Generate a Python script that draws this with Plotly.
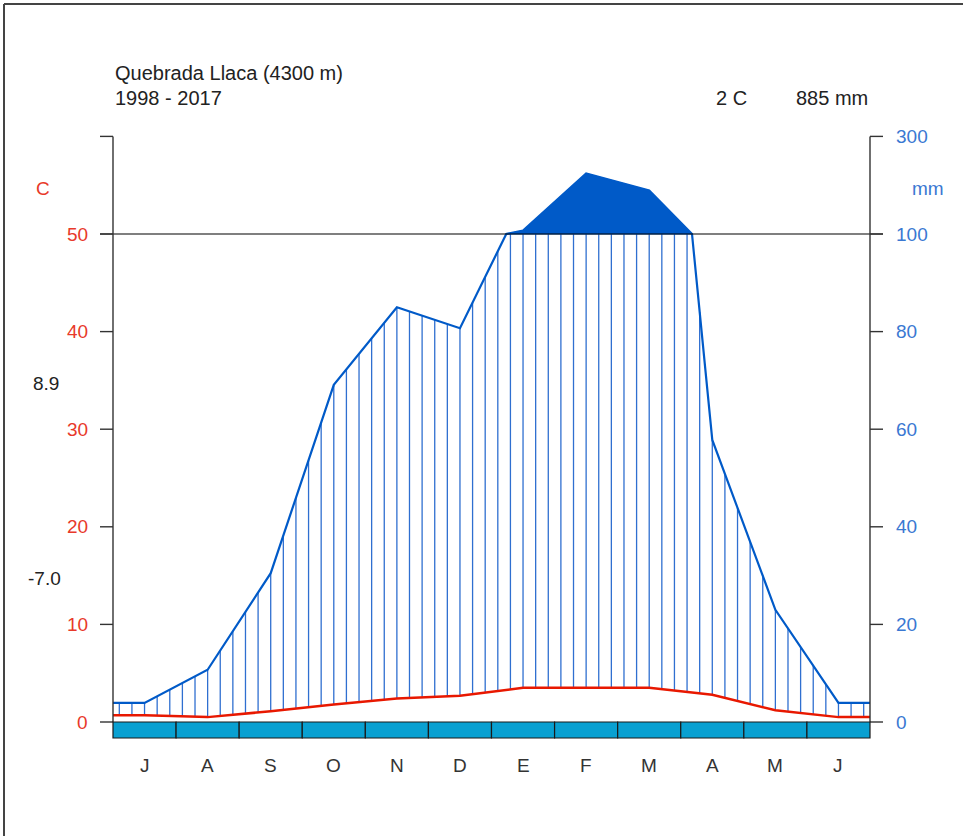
import numpy as np
import plotly.graph_objects as go

# ---------------- data ----------------
month_labels = ["J", "A", "S", "O", "N", "D", "E", "F", "M", "A", "M", "J"]
precip_mm = [3.9, 10.7, 30.5, 69.1, 85.0, 80.7, 107.0, 224.0, 189.0, 57.8, 23.0, 3.9]
temp_c = [0.7, 0.5, 1.1, 1.8, 2.4, 2.7, 3.5, 3.5, 3.5, 2.8, 1.2, 0.5]
temp_ticks = [0, 10, 20, 30, 40, 50]
precip_tick_labels = ["0", "20", "40", "60", "80", "100"]
precip_top_label = "300"
station = "Quebrada Llaca (4300 m)"
period = "1998 - 2017"
mean_temp_label = "2 C"
total_precip_label = "885 mm"
max_warm_label = "8.9"
min_cold_label = "-7.0"

# ---------------- geometry helpers ----------------
W, H = 963, 836
X0PX, X1PX = 113, 870          # month 0 and month 12
Y0PX, PXU = 722, 9.76          # pixel of 0 units, pixels per unit
XR = [(0 - X0PX) / ((X1PX - X0PX) / 12), (W - X0PX) / ((X1PX - X0PX) / 12)]
YR = [(Y0PX - H) / PXU, Y0PX / PXU]


def xpx(px):
    return (px - X0PX) / ((X1PX - X0PX) / 12)


def ypx(py):
    return (Y0PX - py) / PXU


def pu(p):
    p = np.asarray(p, dtype=float)
    return np.where(p <= 100, p / 2.0, 50 + (p - 100) * 0.05)


PCOL = "#005ac8"
TCOL = "#e81800"
FROST = "#09a0d1"
LBLUE = "#3a78d2"
LRED = "#e8392a"
TXT = "#222222"
FONT = "Liberation Sans, Arial, sans-serif"

# monthly series extended flat to the edges
xs = [0.0] + [i + 0.5 for i in range(12)] + [12.0]
ps = [precip_mm[0]] + list(precip_mm) + [precip_mm[-1]]
ts = [temp_c[0]] + list(temp_c) + [temp_c[-1]]

# precipitation polyline with 100 mm crossings
px_line, pp_line = [xs[0]], [ps[0]]
for i in range(1, len(xs)):
    a, b = ps[i - 1], ps[i]
    if (a - 100) * (b - 100) < 0:
        xc = xs[i - 1] + (100 - a) / (b - a) * (xs[i] - xs[i - 1])
        px_line.append(xc)
        pp_line.append(100.0)
    px_line.append(xs[i])
    pp_line.append(b)
py_line = pu(pp_line)

# polygon above 100 mm
poly_x, poly_y = [], []
for x, p in zip(px_line, pp_line):
    if p >= 100:
        poly_x.append(x)
        poly_y.append(float(pu(p)))

fig = go.Figure()

# dark fill above 100 mm
if poly_x:
    fig.add_trace(go.Scatter(
        x=poly_x + [poly_x[-1], poly_x[0]], y=poly_y + [50, 50],
        fill="toself", fillcolor=PCOL, line=dict(color=PCOL, width=1),
        mode="lines", hoverinfo="skip", showlegend=False))

# humid-period hatching
hx, hy = [], []
for k in range(60):
    x = (k + 0.5) / 5
    t = float(np.interp(x, xs, ts))
    p = float(np.interp(x, xs, ps))
    top = min(p, 100) / 2
    if top > t:
        hx += [x, x, None]
        hy += [t, top, None]
fig.add_trace(go.Scatter(x=hx, y=hy, mode="lines",
                         line=dict(color="#2f6fd0", width=1.3),
                         hoverinfo="skip", showlegend=False))

# precipitation line
fig.add_trace(go.Scatter(x=px_line, y=py_line, mode="lines",
                         line=dict(color=PCOL, width=2.2),
                         hoverinfo="skip", showlegend=False))
# temperature line
fig.add_trace(go.Scatter(x=xs, y=ts, mode="lines",
                         line=dict(color=TCOL, width=2.5),
                         hoverinfo="skip", showlegend=False))

shapes = []
ann = []
tick_len = 13 / ((X1PX - X0PX) / 12)

# 50 C / 100 mm reference line
shapes.append(dict(type="line", xref="x", yref="y", x0=-tick_len, x1=12 + tick_len,
                   y0=50, y1=50, line=dict(color="black", width=1.2)))
# axes
for xa in (0, 12):
    shapes.append(dict(type="line", xref="x", yref="y", x0=xa, x1=xa, y0=0, y1=60,
                       line=dict(color="#333333", width=1.4)))
for v in temp_ticks + [60]:
    shapes.append(dict(type="line", xref="x", yref="y", x0=-tick_len, x1=0, y0=v, y1=v,
                       line=dict(color="#333333", width=1.4)))
    shapes.append(dict(type="line", xref="x", yref="y", x0=12, x1=12 + tick_len, y0=v, y1=v,
                       line=dict(color="#333333", width=1.4)))

# frost band
band_h = 16 / PXU
for i in range(12):
    shapes.append(dict(type="rect", xref="x", yref="y", x0=i, x1=i + 1, y0=-band_h, y1=0,
                       fillcolor=FROST, line=dict(color="#1a1a1a", width=1.2)))

# frame
shapes.append(dict(type="line", xref="paper", yref="paper", x0=4 / W, x1=4 / W,
                   y0=0, y1=1 - 4 / H, line=dict(color="#444444", width=2)))
shapes.append(dict(type="line", xref="paper", yref="paper", x0=4 / W, x1=1,
                   y0=1 - 4 / H, y1=1 - 4 / H, line=dict(color="#444444", width=2)))


def text(s, x, y, color=TXT, size=19, xanchor="center"):
    ann.append(dict(text=s, x=x, y=y, xref="x", yref="y", showarrow=False,
                    xanchor=xanchor, yanchor="middle",
                    font=dict(family=FONT, size=size, color=color)))


# left temperature labels
for v in temp_ticks:
    text(str(v), xpx(90), v, color=LRED, xanchor="right")
# right precipitation labels
for v, lab in zip(temp_ticks, precip_tick_labels):
    text(lab, xpx(894), v, color=LBLUE, xanchor="left")
text(precip_top_label, xpx(894), 60, color=LBLUE, xanchor="left")

text("C", xpx(43), ypx(188), color=LRED)
text("mm", xpx(928), ypx(188), color=LBLUE)
text(max_warm_label, xpx(46), ypx(383))
text(min_cold_label, xpx(44), ypx(578))

for i, m in enumerate(month_labels):
    text(m, i + 0.5, ypx(765), color="#333333", size=19)

text(station, xpx(113), ypx(73), xanchor="left", size=20)
text(period, xpx(113), ypx(98), xanchor="left", size=20)
text(mean_temp_label, xpx(731), ypx(98), size=20)
text(total_precip_label, xpx(870), ypx(98), xanchor="right", size=20)

fig.update_layout(
    width=W, height=H, autosize=False,
    margin=dict(l=0, r=0, t=0, b=0),
    paper_bgcolor="white", plot_bgcolor="white",
    xaxis=dict(range=XR, visible=False, domain=[0, 1], fixedrange=True),
    yaxis=dict(range=YR, visible=False, domain=[0, 1], fixedrange=True),
    shapes=shapes, annotations=ann, showlegend=False,
)

fig.write_html("out.html", config={"displayModeBar": False},
               post_script="document.body.style.margin='0';document.body.style.overflow='hidden';")
